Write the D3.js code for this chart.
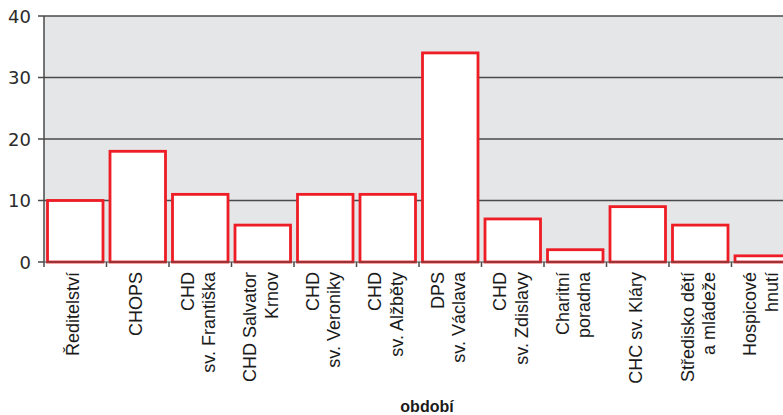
<!DOCTYPE html>
<html>
<head>
<meta charset="utf-8">
<script src="https://cdn.jsdelivr.net/npm/d3@7"></script>
<style>
    body { margin: 0; background: #fff; }
    svg { display: block; }
</style>
</head>
<body>
<div id="chart"></div>
<script>
// Chart data
const categories = ["Ředitelství", "CHOPS", "CHD sv. Františka", "CHD Salvator Krnov",
    "CHD sv. Veroniky", "CHD sv. Alžběty", "DPS sv. Václava", "CHD sv. Zdislavy",
    "Charitní poradna", "CHC sv. Kláry", "Středisko dětí a mládeže", "Hospicové hnutí"];
const labelLines = [["Ředitelství"], ["CHOPS"], ["CHD", "sv. Františka"], ["CHD Salvator", "Krnov"],
    ["CHD", "sv. Veroniky"], ["CHD", "sv. Alžběty"], ["DPS", "sv. Václava"], ["CHD", "sv. Zdislavy"],
    ["Charitní", "poradna"], ["CHC sv. Kláry"], ["Středisko dětí", "a mládeže"], ["Hospicové", "hnutí"]];
const values = [10, 18, 11, 6, 11, 11, 34, 7, 2, 9, 6, 1];
const yTicks = [0, 10, 20, 30, 40];
const xTitle = "období";

const width = 783, height = 415;
const plotLeft = 44, plotTop = 16, plotBottom = 262;
const plotRight = plotLeft + 12 * 62.5;   // plot runs past the right edge, as in the original

const svg = d3.select("#chart").append("svg")
    .attr("width", width)
    .attr("height", height);

const x = d3.scaleBand().domain(categories).range([plotLeft, plotRight]).padding(0);
const y = d3.scaleLinear().domain([0, 40]).range([plotBottom, plotTop]);

// plot background
svg.append("rect")
    .attr("x", plotLeft).attr("y", plotTop)
    .attr("width", plotRight - plotLeft).attr("height", plotBottom - plotTop)
    .attr("fill", "#e5e6e7");

// gridlines
svg.append("g").selectAll("line")
    .data(yTicks.filter(d => d > 0))
    .enter().append("line")
    .attr("x1", plotLeft).attr("x2", plotRight)
    .attr("y1", d => y(d)).attr("y2", d => y(d))
    .attr("stroke", "#4a4a4a").attr("stroke-width", 1.5);

// y axis
svg.append("line")
    .attr("x1", plotLeft).attr("x2", plotLeft)
    .attr("y1", plotTop).attr("y2", plotBottom)
    .attr("stroke", "#4a4a4a").attr("stroke-width", 1.5);
svg.append("g").selectAll("line")
    .data(yTicks)
    .enter().append("line")
    .attr("x1", plotLeft - 6).attr("x2", plotLeft)
    .attr("y1", d => y(d)).attr("y2", d => y(d))
    .attr("stroke", "#4a4a4a").attr("stroke-width", 1.5);
svg.append("g").selectAll("text")
    .data(yTicks)
    .enter().append("text")
    .attr("x", 31).attr("y", d => y(d) + 6.5)
    .attr("text-anchor", "end")
    .attr("font-family", "DejaVu Sans, sans-serif")
    .attr("font-size", 18)
    .attr("fill", "#2b2b2b")
    .text(d => d);

// bars
svg.append("g").selectAll("rect")
    .data(values)
    .enter().append("rect")
    .attr("x", (d, i) => x(categories[i]) + 3.5)
    .attr("width", x.bandwidth() - 7)
    .attr("y", d => y(d))
    .attr("height", d => y(0) - y(d))
    .attr("fill", "#ffffff")
    .attr("stroke", "#ee1c25")
    .attr("stroke-width", 2.8);

// x axis
svg.append("line")
    .attr("x1", plotLeft).attr("x2", plotRight)
    .attr("y1", plotBottom).attr("y2", plotBottom)
    .attr("stroke", "#4a4a4a").attr("stroke-width", 1.2);
svg.append("g").selectAll("line")
    .data(categories)
    .enter().append("line")
    .attr("x1", d => x(d)).attr("x2", d => x(d))
    .attr("y1", plotBottom).attr("y2", plotBottom + 5)
    .attr("stroke", "#4a4a4a").attr("stroke-width", 1.5);

// category labels, rotated
const lineGap = 21.5;
labelLines.forEach(function(lines, i) {
    let c = x(categories[i]) + x.bandwidth() / 2 - 2.5;
    lines.forEach(function(line, j) {
        let cx = c + (j - (lines.length - 1) / 2) * lineGap + 6.5;
        svg.append("text")
            .attr("transform", "translate(" + cx + "," + 272 + ") rotate(-90)")
            .attr("text-anchor", "end")
            .attr("font-family", "Liberation Sans, Arial, sans-serif")
            .attr("font-size", 18)
            .attr("fill", "#1a1a1a")
            .text(line);
    });
});

// axis title
svg.append("text")
    .attr("x", 427).attr("y", 412)
    .attr("text-anchor", "middle")
    .attr("font-family", "Liberation Sans, Arial, sans-serif")
    .attr("font-weight", "bold")
    .attr("font-size", 16)
    .attr("fill", "#1a1a1a")
    .text(xTitle);
</script>
</body>
</html>
